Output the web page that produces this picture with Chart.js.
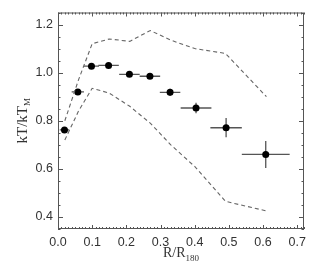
<!DOCTYPE html>
<html>
<head>
<meta charset="utf-8">
<script src="https://cdn.jsdelivr.net/npm/chart.js@4.4.1/dist/chart.umd.min.js"></script>
<style>
  html, body { margin: 0; padding: 0; background: #fff; }
  #wrap { width: 326px; height: 269px; }
</style>
</head>
<body>
<div id="wrap"><canvas id="tempProfile"></canvas></div>
<script>
// measured points (radius in R180, temperature in units of kT_M)
const radius    = [0.019, 0.058, 0.098, 0.148, 0.209, 0.269, 0.328, 0.404, 0.492, 0.608];
const temp      = [0.762, 0.920, 1.027, 1.030, 0.993, 0.985, 0.918, 0.853, 0.771, 0.660];
const radiusErr = [0.014, 0.018, 0.022, 0.030, 0.030, 0.030, 0.030, 0.045, 0.046, 0.070];
const tempErr   = [0.010, 0.010, 0.008, 0.008, 0.008, 0.008, 0.015, 0.022, 0.040, 0.056];

// dashed envelope
const modelR = [0.02, 0.06, 0.10, 0.15, 0.21, 0.27, 0.33, 0.40, 0.49, 0.61];
const upperT = [0.80, 0.97, 1.12, 1.14, 1.13, 1.175, 1.135, 1.10, 1.08, 0.90];
const lowerT = [0.72, 0.84, 0.935, 0.915, 0.86, 0.79, 0.70, 0.61, 0.465, 0.425];

// axis ticks
const xTicks = [0.0, 0.1, 0.2, 0.3, 0.4, 0.5, 0.6, 0.7];
const yTicks = [0.4, 0.6, 0.8, 1.0, 1.2];

const toPts = (xs, ys) => xs.map((x, i) => ({ x: x, y: ys[i] }));

// error bars, drawn under the dots
const errorBars = {
    id: 'errorBars',
    beforeDatasetsDraw(chart) {
        const { ctx, scales: { x, y } } = chart;
        ctx.save();
        ctx.strokeStyle = '#555';
        ctx.lineWidth = 1.3;
        radius.forEach((r, i) => {
            const px = x.getPixelForValue(r);
            const py = y.getPixelForValue(temp[i]);
            ctx.beginPath();
            ctx.moveTo(x.getPixelForValue(r - radiusErr[i]), py);
            ctx.lineTo(x.getPixelForValue(r + radiusErr[i]), py);
            ctx.moveTo(px, y.getPixelForValue(temp[i] - tempErr[i]));
            ctx.lineTo(px, y.getPixelForValue(temp[i] + tempErr[i]));
            ctx.stroke();
        });
        ctx.restore();
    }
};

// box frame with inward ticks on all four sides + axis titles
const frame = {
    id: 'frame',
    afterDraw(chart) {
        const { ctx, chartArea: a, scales: { x, y } } = chart;
        ctx.save();
        ctx.strokeStyle = '#555';
        ctx.lineWidth = 1;
        ctx.strokeRect(a.left + 0.5, a.top + 0.5, a.right - a.left - 1, a.bottom - a.top - 1);

        ctx.beginPath();
        for (let k = 0; k <= 72; k++) {
            const v = k / 100;
            const px = Math.round(x.getPixelForValue(v)) + 0.5;
            const len = (k % 10 === 0) ? 4 : 2;
            ctx.moveTo(px, a.bottom); ctx.lineTo(px, a.bottom - len);
            ctx.moveTo(px, a.top); ctx.lineTo(px, a.top + len);
        }
        for (let k = 7; k <= 25; k++) {
            const v = k * 0.05;
            const py = Math.round(y.getPixelForValue(v)) + 0.5;
            const len = (k % 4 === 0) ? 5 : 2.5;
            ctx.moveTo(a.left, py); ctx.lineTo(a.left + len, py);
            ctx.moveTo(a.right, py); ctx.lineTo(a.right - len, py);
        }
        ctx.stroke();

        // x title: R/R_180
        ctx.fillStyle = '#333';
        ctx.textBaseline = 'alphabetic';
        ctx.font = '9px "Liberation Serif"';
        const subW = ctx.measureText('180').width;
        ctx.font = '14px "Liberation Serif"';
        const mainW = ctx.measureText('R/R').width;
        const cx = (a.left + a.right) / 2;
        const sx = cx - (mainW + subW) / 2;
        ctx.fillText('R/R', sx, 257);
        ctx.font = '9px "Liberation Serif"';
        ctx.fillText('180', sx + mainW, 261);

        // y title: kT/kT_M
        ctx.translate(27, (a.top + a.bottom) / 2);
        ctx.rotate(-Math.PI / 2);
        ctx.font = '15px "Liberation Serif"';
        const yMainW = ctx.measureText('kT/kT').width;
        ctx.font = '9px "Liberation Serif"';
        const ySubW = ctx.measureText('M').width;
        const start = -(yMainW + ySubW) / 2;
        ctx.font = '15px "Liberation Serif"';
        ctx.fillText('kT/kT', start, 0);
        ctx.font = '9px "Liberation Serif"';
        ctx.fillText('M', start + yMainW, 3);
        ctx.restore();
    }
};

new Chart(document.getElementById('tempProfile'), {
    type: 'scatter',
    data: {
        datasets: [
            {
                label: 'upper',
                data: toPts(modelR, upperT),
                showLine: true,
                borderColor: '#666',
                borderWidth: 1.1,
                borderDash: [4, 3],
                pointRadius: 0
            },
            {
                label: 'lower',
                data: toPts(modelR, lowerT),
                showLine: true,
                borderColor: '#666',
                borderWidth: 1.1,
                borderDash: [4, 3],
                pointRadius: 0
            },
            {
                label: 'data',
                data: toPts(radius, temp),
                showLine: false,
                backgroundColor: '#000',
                borderColor: '#000',
                pointRadius: 3.5,
                borderWidth: 0
            }
        ]
    },
    options: {
        responsive: true,
        maintainAspectRatio: false,
        animation: false,
        layout: { padding: { top: 7, right: 22, left: 0, bottom: 0 } },
        plugins: {
            legend: { display: false },
            tooltip: { enabled: false }
        },
        scales: {
            x: {
                type: 'linear',
                min: 0,
                max: 0.72,
                afterBuildTicks: (s) => { s.ticks = xTicks.map(v => ({ value: v })); },
                afterFit: (s) => { s.height = 40; },
                grid: { display: false, drawTicks: false },
                border: { display: false },
                ticks: {
                    padding: 6,
                    color: '#333',
                    font: { family: '"Liberation Sans"', size: 12.5 },
                    maxRotation: 0,
                    callback: (v) => v.toFixed(1)
                }
            },
            y: {
                type: 'linear',
                min: 0.35,
                max: 1.25,
                afterBuildTicks: (s) => { s.ticks = yTicks.map(v => ({ value: v })); },
                afterFit: (s) => { s.width = 58; },
                grid: { display: false, drawTicks: false },
                border: { display: false },
                ticks: {
                    padding: 5,
                    color: '#333',
                    font: { family: '"Liberation Sans"', size: 12.5 },
                    callback: (v) => v.toFixed(1)
                }
            }
        }
    },
    plugins: [errorBars, frame]
});
</script>
</body>
</html>
